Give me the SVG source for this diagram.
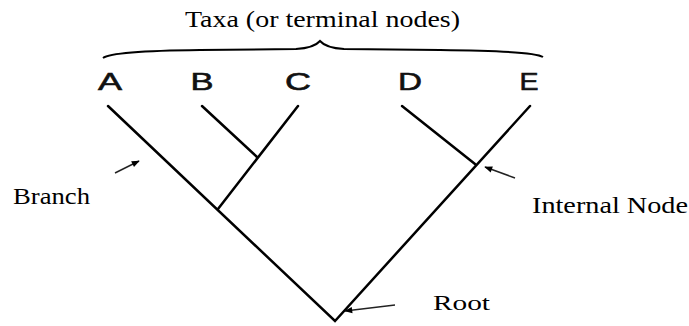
<svg xmlns="http://www.w3.org/2000/svg" width="689" height="326" viewBox="0 0 689 326">
<style>
.lbl{font-family:"Liberation Serif","Times New Roman",serif;fill:#000}
.tax{font-family:"Liberation Sans",Arial,sans-serif;font-size:24px;fill:#111;stroke:#111;stroke-width:0.6;text-anchor:middle}
.br{stroke:#000;stroke-width:2.5;fill:none;stroke-linecap:round}
.ar{stroke:#222;stroke-width:1.5;fill:none}
</style>
<defs>
<marker id="ah" viewBox="0 0 10 10" refX="9" refY="5" markerWidth="9" markerHeight="8" orient="auto" markerUnits="userSpaceOnUse">
<path d="M0,1 L10,5 L0,9 z" fill="#000"/>
</marker>
</defs>
<rect width="689" height="326" fill="#fff"/>
<g id="title">
<text class="lbl" x="185" y="27" font-size="23" textLength="275" lengthAdjust="spacingAndGlyphs">Taxa (or terminal nodes)</text>
<path d="M103,58 Q112,51 200,50 L296,49 Q314,48 320,41 Q326,48 344,49 L440,50 Q534,51 543,57" fill="none" stroke="#000" stroke-width="2"/>
</g>
<g id="connectors">
<path class="br" d="M108,106 L335,321 L530,106"/>
<path class="br" d="M202,106 L257,157"/>
<path class="br" d="M298,106 L218,209"/>
<path class="br" d="M402,106 L475,164"/>
<path class="ar" d="M115,173 L139,161" marker-end="url(#ah)"/>
<path class="ar" d="M515,178 L485,167" marker-end="url(#ah)"/>
<path class="ar" d="M395,305 L345,311" marker-end="url(#ah)"/>
</g>
<g id="A"><text class="tax" x="110" y="90" textLength="24" lengthAdjust="spacingAndGlyphs">A</text></g>
<g id="B"><text class="tax" x="202" y="90" textLength="23" lengthAdjust="spacingAndGlyphs">B</text></g>
<g id="C"><text class="tax" x="298" y="90" textLength="26" lengthAdjust="spacingAndGlyphs">C</text></g>
<g id="D"><text class="tax" x="410" y="90" textLength="24" lengthAdjust="spacingAndGlyphs">D</text></g>
<g id="E"><text class="tax" x="529" y="90" textLength="19" lengthAdjust="spacingAndGlyphs">E</text></g>
<g id="branch"><text class="lbl" x="13" y="204" font-size="24" textLength="77" lengthAdjust="spacingAndGlyphs">Branch</text></g>
<g id="internal"><text class="lbl" x="532" y="213" font-size="23" textLength="156" lengthAdjust="spacingAndGlyphs">Internal Node</text></g>
<g id="root"><text class="lbl" x="433" y="310" font-size="21" textLength="57" lengthAdjust="spacingAndGlyphs">Root</text></g>
</svg>
